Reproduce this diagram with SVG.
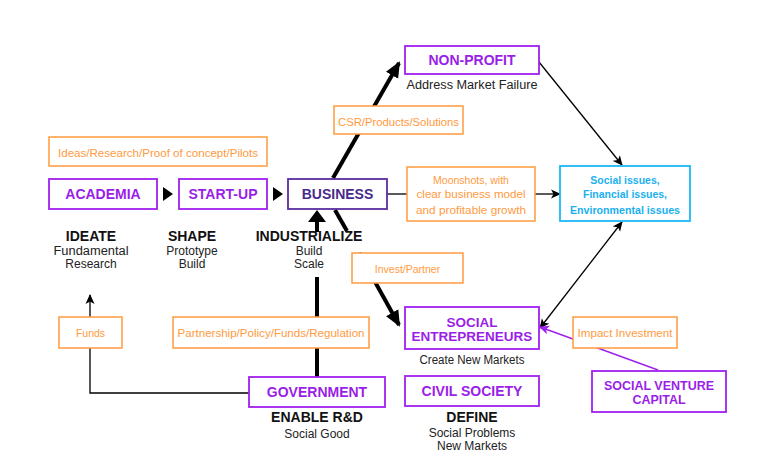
<svg xmlns="http://www.w3.org/2000/svg" width="779" height="474" viewBox="0 0 779 474">
<defs>
<marker id="hT" markerUnits="userSpaceOnUse" markerWidth="16" markerHeight="16" viewBox="0 0 16 16" refX="14" refY="8" orient="auto"><path d="M0,1 L16,8 L0,15 Z" fill="#000"/></marker>
<marker id="h" markerUnits="userSpaceOnUse" markerWidth="10" markerHeight="10" viewBox="0 0 10 10" refX="9" refY="5" orient="auto"><path d="M0,0.5 L10,5 L0,9.5 L2.5,5 Z" fill="#000"/></marker>
<marker id="hs" markerUnits="userSpaceOnUse" markerWidth="10" markerHeight="10" viewBox="0 0 10 10" refX="1" refY="5" orient="auto"><path d="M10,0.5 L0,5 L10,9.5 L7.5,5 Z" fill="#000"/></marker>
<marker id="hp" markerUnits="userSpaceOnUse" markerWidth="10" markerHeight="10" viewBox="0 0 10 10" refX="9" refY="5" orient="auto"><path d="M0,0.5 L10,5 L0,9.5 L2.5,5 Z" fill="#a020f0"/></marker>
</defs>
<style>
.bx{fill:#fff;stroke:#a020f0;stroke-width:1.8}
.ob{fill:#fff;stroke:#ff9a3e;stroke-width:1.5}
.nl{font-family:"Liberation Sans",Arial,sans-serif;font-weight:bold;font-size:14px;fill:#9a1ee8;text-anchor:middle}
.ot{font-family:"Liberation Sans",Arial,sans-serif;font-size:10.5px;fill:#ff9a3e;text-anchor:middle}
.hd{font-family:"Liberation Sans",Arial,sans-serif;font-weight:bold;font-size:14px;fill:#111;text-anchor:middle}
.sb{font-family:"Liberation Sans",Arial,sans-serif;font-size:12px;fill:#222;text-anchor:middle}
.ct{font-family:"Liberation Sans",Arial,sans-serif;font-weight:bold;font-size:10.5px;fill:#1ab0f0;text-anchor:middle}
.th{stroke:#000;stroke-width:4;fill:none}
.tn{stroke:#000;stroke-width:1.3;fill:none}
</style>
<rect width="779" height="474" fill="#fff"/>
<g id="connectors">
<line class="th" x1="333" y1="178" x2="399" y2="63" marker-end="url(#hT)"/>
<line class="th" x1="335" y1="210" x2="347" y2="231"/>
<line class="th" x1="359" y1="253" x2="399" y2="325" marker-end="url(#hT)"/>
<line class="th" x1="317" y1="377" x2="317" y2="277"/>
<line class="th" x1="317" y1="232" x2="317" y2="221"/>
<polygon points="317,210 326,222 308,222" fill="#000"/>
<polygon points="163,187 173,194 163,201" fill="#000"/>
<polygon points="273,187 283,194 273,201" fill="#000"/>
<line class="tn" x1="387" y1="194" x2="407" y2="194"/>
<line class="tn" x1="535" y1="194" x2="560" y2="194" marker-end="url(#h)"/>
<line class="tn" x1="539" y1="62" x2="622" y2="165" marker-end="url(#h)"/>
<line class="tn" x1="622" y1="222" x2="540" y2="328" marker-start="url(#hs)" marker-end="url(#h)"/>
<line x1="658" y1="370" x2="540" y2="327" stroke="#a020f0" stroke-width="1.5" marker-end="url(#hp)"/>
<polyline class="tn" points="249,393 90,393 90,295" marker-end="url(#h)"/>
</g>
<g id="ideas-label">
<rect class="ob" x="49" y="137" width="218" height="29"/>
<text class="ot" x="158" y="156.5" textLength="200" lengthAdjust="spacingAndGlyphs">Ideas/Research/Proof of concept/Pilots</text>
</g>
<g id="academia">
<rect class="bx" x="49" y="179" width="108" height="30"/>
<text class="nl" x="103" y="199">ACADEMIA</text>
<text class="hd" x="91" y="241">IDEATE</text>
<text class="sb" x="91" y="254.5" textLength="75" lengthAdjust="spacingAndGlyphs">Fundamental</text>
<text class="sb" x="91" y="268">Research</text>
</g>
<g id="startup">
<rect class="bx" x="179" y="179" width="88" height="30"/>
<text class="nl" x="223" y="199">START-UP</text>
<text class="hd" x="192" y="241">SHAPE</text>
<text class="sb" x="192" y="254.5">Prototype</text>
<text class="sb" x="192" y="268">Build</text>
</g>
<g id="business">
<rect x="288" y="179" width="99" height="30" fill="#fff" stroke="#5a2ca0" stroke-width="1.8"/>
<text class="nl" x="337.5" y="199" style="fill:#4b2a8c">BUSINESS</text>
<text class="hd" x="309" y="241">INDUSTRIALIZE</text>
<text class="sb" x="309" y="254.5">Build</text>
<text class="sb" x="309" y="268">Scale</text>
</g>
<g id="nonprofit">
<rect class="bx" x="405" y="46" width="134" height="28"/>
<text class="nl" x="472" y="65">NON-PROFIT</text>
<text class="sb" x="472" y="88.5" textLength="131" lengthAdjust="spacingAndGlyphs">Address Market Failure</text>
</g>
<g id="csr-label">
<rect class="ob" x="334" y="106" width="129" height="28"/>
<text class="ot" x="398.5" y="125.5" textLength="121" lengthAdjust="spacingAndGlyphs">CSR/Products/Solutions</text>
</g>
<g id="moonshots-label">
<rect class="ob" x="407" y="167" width="128" height="54"/>
<text class="ot" x="471" y="183.5">Moonshots, with</text>
<text class="ot" x="471" y="197.5" textLength="109" lengthAdjust="spacingAndGlyphs">clear business model</text>
<text class="ot" x="471" y="213.5" textLength="110" lengthAdjust="spacingAndGlyphs">and profitable growth</text>
</g>
<g id="issues">
<rect x="560" y="166" width="130" height="55" fill="#fff" stroke="#1ab8f5" stroke-width="1.8"/>
<text class="ct" x="625" y="183.5">Social issues,</text>
<text class="ct" x="625" y="197.5">Financial issues,</text>
<text class="ct" x="625" y="213.5" textLength="110" lengthAdjust="spacingAndGlyphs">Environmental issues</text>
</g>
<g id="invest-label">
<rect class="ob" x="352" y="253" width="111" height="30"/>
<text class="ot" x="407.5" y="272.5">Invest/Partner</text>
</g>
<g id="social-entrepreneurs">
<rect class="bx" x="405" y="307" width="134" height="42"/>
<text class="nl" x="472" y="327" style="font-size:13.5px">SOCIAL</text>
<text class="nl" x="472" y="341" style="font-size:13.5px">ENTREPRENEURS</text>
<text class="sb" x="472" y="363.5" textLength="105" lengthAdjust="spacingAndGlyphs">Create New Markets</text>
</g>
<g id="civil-society">
<rect class="bx" x="405" y="376" width="134" height="30"/>
<text class="nl" x="472" y="396">CIVIL SOCIETY</text>
<text class="hd" x="472" y="422">DEFINE</text>
<text class="sb" x="472" y="436.5">Social Problems</text>
<text class="sb" x="472" y="450">New Markets</text>
</g>
<g id="funds-label">
<rect class="ob" x="59" y="317" width="63" height="31"/>
<text class="ot" x="90.5" y="336.5">Funds</text>
</g>
<g id="partnership-label">
<rect class="ob" x="173" y="317" width="196" height="31"/>
<text class="ot" x="271" y="336.5" textLength="187" lengthAdjust="spacingAndGlyphs">Partnership/Policy/Funds/Regulation</text>
</g>
<g id="government">
<rect class="bx" x="249" y="377" width="136" height="30"/>
<text class="nl" x="317" y="397">GOVERNMENT</text>
<text class="hd" x="317" y="422">ENABLE R&amp;D</text>
<text class="sb" x="317" y="437.5">Social Good</text>
</g>
<g id="impact-label">
<rect class="ob" x="573" y="317" width="104" height="31"/>
<text class="ot" x="625" y="336.5" textLength="95" lengthAdjust="spacingAndGlyphs">Impact Investment</text>
</g>
<g id="social-venture-capital">
<rect class="bx" x="592" y="371" width="134" height="41"/>
<text class="nl" x="659" y="390" style="font-size:12.5px">SOCIAL VENTURE</text>
<text class="nl" x="659" y="403.5" style="font-size:12.5px">CAPITAL</text>
</g>
</svg>
